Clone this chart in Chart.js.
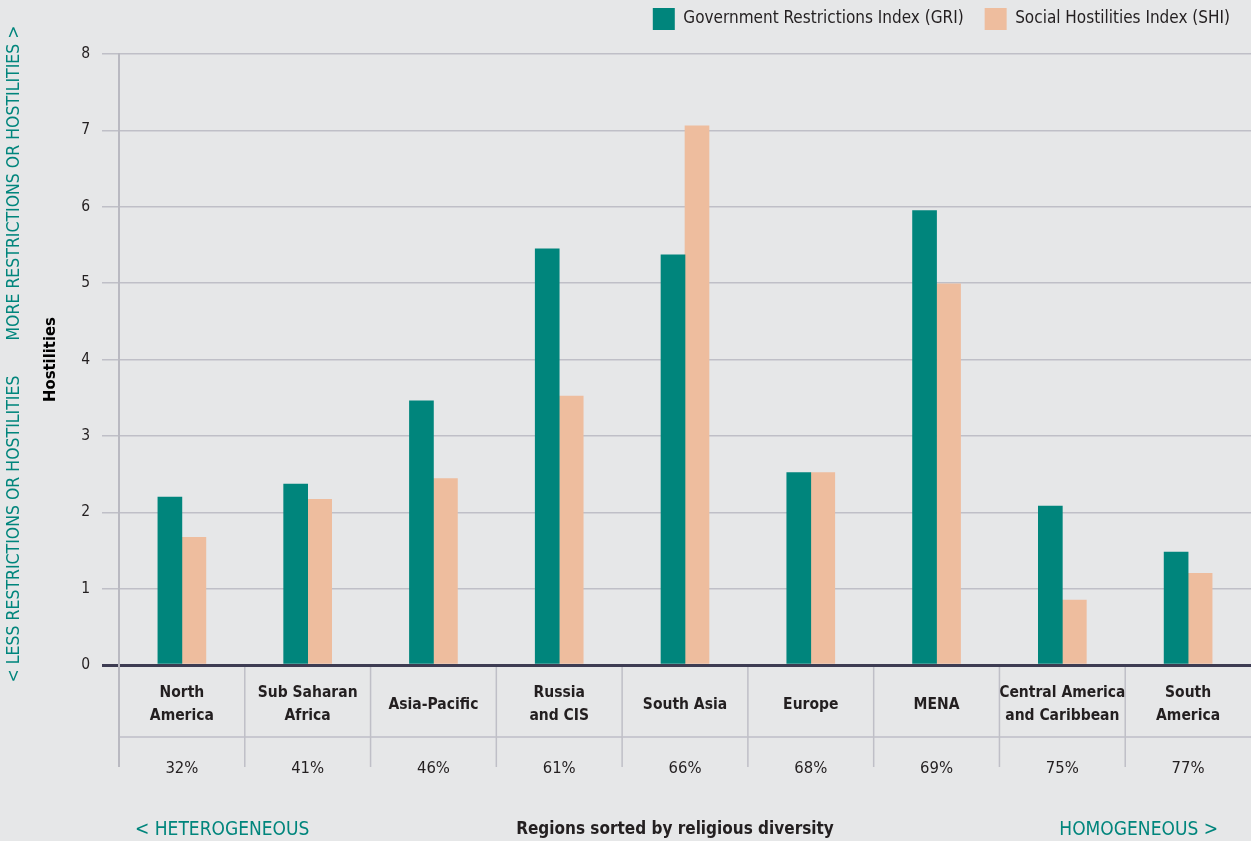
<!DOCTYPE html>
<html>
<head>
<meta charset="utf-8">
<title>Restrictions and hostilities by region</title>
<script src="https://cdn.jsdelivr.net/npm/chart.js@4.4.1/dist/chart.umd.min.js"></script>
<style>
  html, body { margin: 0; padding: 0; background: #e6e7e8; }
  canvas { display: block; }
</style>
</head>
<body>
<canvas id="chart" width="1251" height="841"></canvas>
<script>
// regions, sorted by religious diversity
const regions = [
    ["North", "America"],
    ["Sub Saharan", "Africa"],
    "Asia-Pacific",
    ["Russia", "and CIS"],
    "South Asia",
    "Europe",
    "MENA",
    ["Central America", "and Caribbean"],
    ["South", "America"]
];
const diversity = ["32%", "41%", "46%", "61%", "66%", "68%", "69%", "75%", "77%"];

const griValues = [2.2, 2.37, 3.46, 5.45, 5.37, 2.52, 5.95, 2.08, 1.48];
const shiValues = [1.67, 2.17, 2.44, 3.52, 7.06, 2.52, 4.99, 0.85, 1.2];

const yMin = 0;
const yMax = 8;

const FONT = "'Liberation Sans Narrow', 'DejaVu Sans Condensed', 'Arial Narrow', sans-serif";
const TEAL = "#00857c";
const PEACH = "#eebd9e";
const INK = "#231f20";
const GRID = "#bfbfc7";

Chart.defaults.font.family = FONT;
Chart.defaults.color = INK;

// table lines under the axis + side and bottom captions
const extras = {
    id: "extras",
    afterDraw(chart) {
        const { ctx, chartArea } = chart;
        const x = chart.scales.x;
        const tableBottom = x.bottom + 30;

        ctx.save();
        ctx.strokeStyle = GRID;
        ctx.lineWidth = 1.5;
        ctx.beginPath();
        ctx.moveTo(chartArea.left, x.bottom);
        ctx.lineTo(chartArea.right, x.bottom);
        for (let i = 1; i < regions.length; i++) {
            const bx = (x.getPixelForValue(i - 1) + x.getPixelForValue(i)) / 2;
            ctx.moveTo(bx, chartArea.bottom + 2);
            ctx.lineTo(bx, tableBottom);
        }
        ctx.stroke();

        ctx.lineWidth = 2;
        ctx.strokeStyle = "#b9b9c1";
        ctx.beginPath();
        ctx.moveTo(chartArea.left, chartArea.bottom + 2);
        ctx.lineTo(chartArea.left, tableBottom);
        ctx.stroke();

        // vertical captions on the left
        ctx.fillStyle = TEAL;
        ctx.font = "17.5px " + FONT;
        ctx.textAlign = "center";
        ctx.textBaseline = "middle";
        ctx.save();
        ctx.translate(14, 183);
        ctx.rotate(-Math.PI / 2);
        ctx.fillText("MORE RESTRICTIONS OR HOSTILITIES >", 0, 0);
        ctx.restore();
        ctx.save();
        ctx.translate(14, 529);
        ctx.rotate(-Math.PI / 2);
        ctx.fillText("< LESS RESTRICTIONS OR HOSTILITIES", 0, 0);
        ctx.restore();

        // bottom row
        const by = 830;
        ctx.font = "19px " + FONT;
        ctx.textAlign = "left";
        ctx.fillText("< HETEROGENEOUS", 135, by);
        ctx.textAlign = "right";
        ctx.fillText("HOMOGENEOUS >", 1218, by);
        ctx.fillStyle = INK;
        ctx.font = "bold 17px " + FONT;
        ctx.textAlign = "center";
        ctx.fillText("Regions sorted by religious diversity", 675, by);
        ctx.restore();
    }
};

new Chart(document.getElementById("chart"), {
    type: "bar",
    data: {
        labels: regions,
        datasets: [
            {
                label: "Government Restrictions Index (GRI)",
                data: griValues,
                backgroundColor: TEAL,
                borderWidth: 0,
                barThickness: 24
            },
            {
                label: "Social Hostilities Index (SHI)",
                data: shiValues,
                backgroundColor: PEACH,
                borderWidth: 0,
                barThickness: 24
            }
        ]
    },
    options: {
        responsive: false,
        animation: false,
        layout: { padding: { top: -13, left: 0, right: 0, bottom: 54 } },
        plugins: {
            tooltip: { enabled: false },
            legend: {
                position: "top",
                align: "end",
                labels: {
                    boxWidth: 22,
                    boxHeight: 22,
                    padding: 21,
                    color: INK,
                    font: { size: 17 }
                }
            },
            // empty title used as a spacer between legend and plot
            title: {
                display: true,
                text: "",
                weight: 500,
                padding: 0,
                font: { size: 14, lineHeight: 1 }
            }
        },
        scales: {
            x: {
                weight: 0,
                offset: true,
                grid: { display: false },
                border: { display: false },
                ticks: {
                    autoSkip: false,
                    maxRotation: 0,
                    crossAlign: "center",
                    padding: 20,
                    color: INK,
                    font: { size: 15.5, weight: "bold", lineHeight: "23px" }
                },
                afterFit(scale) { scale.height = 72; }
            },
            x2: {
                type: "category",
                position: "bottom",
                weight: 1,
                labels: diversity,
                offset: true,
                grid: { display: false },
                border: { display: false },
                ticks: {
                    autoSkip: false,
                    maxRotation: 0,
                    padding: 14,
                    color: INK,
                    font: { size: 16.5 }
                },
                afterFit(scale) { scale.height = 50; }
            },
            y: {
                min: yMin,
                max: yMax,
                ticks: {
                    stepSize: 1,
                    padding: 12,
                    color: INK,
                    font: { size: 15.5 }
                },
                grid: {
                    tickLength: 17,
                    color: (c) => (c.tick && c.tick.value === 0 ? "#3d3c52" : GRID),
                    lineWidth: (c) => (c.tick && c.tick.value === 0 ? 3 : 1.5)
                },
                border: { color: "#b9b9c1", width: 2 },
                title: {
                    display: true,
                    text: "Hostilities",
                    color: "#000",
                    padding: { top: 41, bottom: 0 },
                    font: { size: 16.5, weight: "bold" }
                },
                afterFit(scale) { scale.width = 119; }
            }
        }
    },
    plugins: [extras]
});
</script>
</body>
</html>
